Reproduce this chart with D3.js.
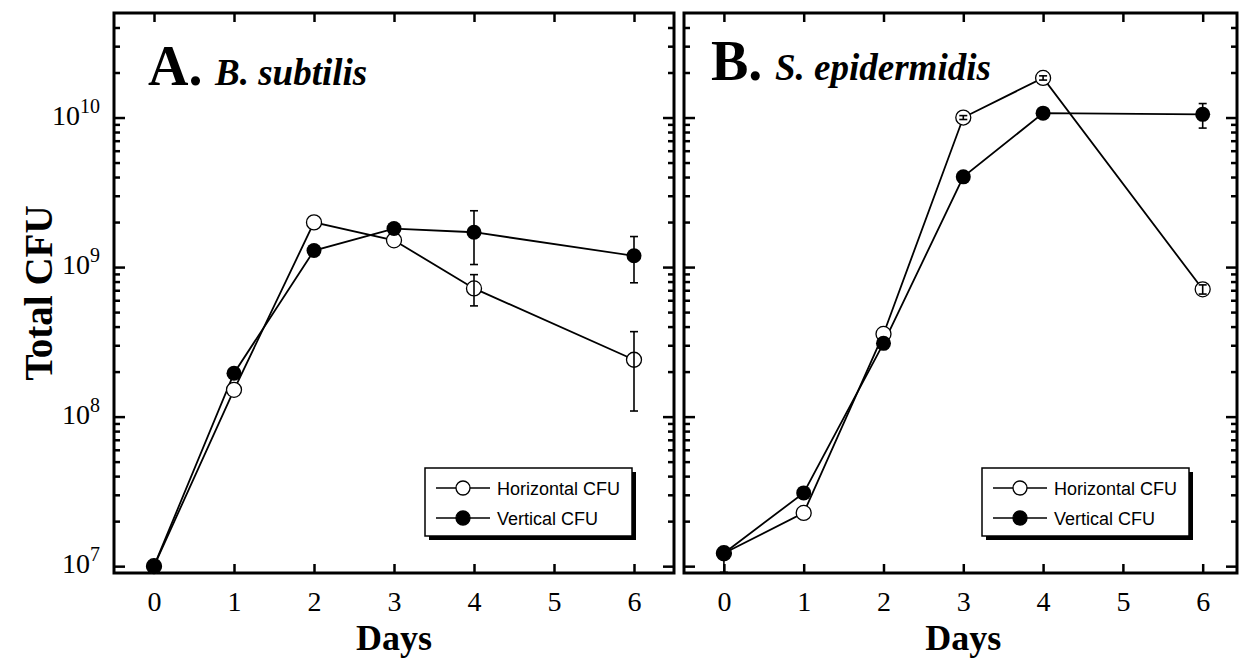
<!DOCTYPE html>
<html>
<head>
<meta charset="utf-8">
<script src="https://cdn.jsdelivr.net/npm/d3@7"></script>
<style>
  html, body { margin: 0; padding: 0; background: #fff; }
  svg { display: block; }
</style>
</head>
<body>
<svg id="chart" width="1243" height="658"></svg>
<script>
// ---- data -------------------------------------------------------------
const days = [0, 1, 2, 3, 4, 6];
const dayTicks = [0, 1, 2, 3, 4, 5, 6];
const decadeTicks = [1e7, 1e8, 1e9, 1e10];
const legendLabels = ["Horizontal CFU", "Vertical CFU"];

// A. B. subtilis
const subtilisHorizontal     = [1.0e7, 1.51e8, 1.99e9, 1.51e9, 7.2e8, 2.4e8];
const subtilisHorizontalLow  = [null, null, null, null, 5.5e8, 1.09e8];
const subtilisHorizontalHigh = [null, null, null, null, 8.9e8, 3.7e8];
const subtilisVertical       = [1.0e7, 1.95e8, 1.29e9, 1.81e9, 1.71e9, 1.19e9];
const subtilisVerticalLow    = [null, null, null, null, 1.04e9, 7.85e8];
const subtilisVerticalHigh   = [null, null, null, null, 2.38e9, 1.6e9];

// B. S. epidermidis
const epidermidisHorizontal     = [1.22e7, 2.27e7, 3.57e8, 1.0e10, 1.84e10, 7.1e8];
const epidermidisHorizontalLow  = [null, null, null, 9.7e9, 1.78e10, 6.6e8];
const epidermidisHorizontalHigh = [null, null, null, 1.03e10, 1.9e10, 7.6e8];
const epidermidisVertical       = [1.22e7, 3.09e7, 3.09e8, 4.01e9, 1.07e10, 1.05e10];
const epidermidisVerticalLow    = [9.1e6, null, null, null, null, 8.5e9];
const epidermidisVerticalHigh   = [1.3e7, null, null, null, null, 1.24e10];

// ---- layout -----------------------------------------------------------
const SERIF = "'Liberation Serif', 'Times New Roman', serif";
const SANS = "'Liberation Sans', Arial, sans-serif";
const plotTop = 13, plotBottom = 573;

const y = d3.scaleLog().domain([9e6, 5e10]).range([plotBottom, plotTop]);

const panels = [
  {
    left: 114, right: 674, xDomain: [-0.5, 6.5],
    letter: "A.", letterX: 148, species: "B. subtilis", speciesX: 215, titleY: 85,
    yLabels: true, legendX: 425, legendY: 468,
    horizontal: subtilisHorizontal, hLow: subtilisHorizontalLow, hHigh: subtilisHorizontalHigh,
    vertical: subtilisVertical, vLow: subtilisVerticalLow, vHigh: subtilisVerticalHigh
  },
  {
    left: 684, right: 1237, xDomain: [-0.5, 6.43],
    letter: "B.", letterX: 711, species: "S. epidermidis", speciesX: 775, titleY: 80,
    yLabels: false, legendX: 982, legendY: 468,
    horizontal: epidermidisHorizontal, hLow: epidermidisHorizontalLow, hHigh: epidermidisHorizontalHigh,
    vertical: epidermidisVertical, vLow: epidermidisVerticalLow, vHigh: epidermidisVerticalHigh
  }
];

const svg = d3.select("#chart");
const R = 7.5;

const isDecade = v => Math.abs(Math.log10(v) - Math.round(Math.log10(v))) < 1e-6;
const yTickValues = y.ticks().filter(v => v > 9.5e6 && v < 4.9e10);

function styleAxis(g) {
  g.select(".domain").remove();
  g.selectAll(".tick line").attr("stroke", "#000").attr("stroke-width", 2.5);
}

panels.forEach(p => {
  const x = d3.scaleLinear().domain(p.xDomain).range([p.left, p.right]);
  const g = svg.append("g");

  // bottom axis: inward ticks + labels
  const bAxis = g.append("g").attr("transform", `translate(0,${plotBottom})`)
    .call(d3.axisBottom(x).tickValues(dayTicks).tickSize(-9).tickFormat(d3.format("d")));
  styleAxis(bAxis);
  bAxis.selectAll(".tick text")
    .attr("y", 38).attr("dy", 0)
    .attr("font-family", SERIF).attr("font-size", 28).attr("fill", "#000");

  // top axis: inward ticks only
  const tAxis = g.append("g").attr("transform", `translate(0,${plotTop})`)
    .call(d3.axisTop(x).tickValues(dayTicks).tickSize(-9).tickFormat(""));
  styleAxis(tAxis);

  // left & right log axes with major/minor inward ticks
  const lAxis = g.append("g").attr("transform", `translate(${p.left},0)`)
    .call(d3.axisLeft(y).tickValues(yTickValues).tickFormat(""));
  styleAxis(lAxis);
  lAxis.selectAll(".tick line").attr("x2", d => isDecade(d) ? 11 : 6);

  const rAxis = g.append("g").attr("transform", `translate(${p.right},0)`)
    .call(d3.axisRight(y).tickValues(yTickValues).tickFormat(""));
  styleAxis(rAxis);
  rAxis.selectAll(".tick line").attr("x2", d => isDecade(d) ? -11 : -6);

  if (p.yLabels) {
    const labels = g.append("g");
    decadeTicks.forEach(v => {
      const t = labels.append("text")
        .attr("x", 100).attr("y", y(v) + 7)
        .attr("text-anchor", "end")
        .attr("font-family", SERIF).attr("font-size", 28).attr("fill", "#000");
      t.append("tspan").text("10");
      t.append("tspan").attr("font-size", 20).attr("dy", -12).text(String(Math.round(Math.log10(v))));
    });
  }

  // frame
  g.append("rect")
    .attr("x", p.left).attr("y", plotTop)
    .attr("width", p.right - p.left).attr("height", plotBottom - plotTop)
    .attr("fill", "none").attr("stroke", "#000").attr("stroke-width", 3);

  // panel title
  g.append("text").attr("x", p.letterX).attr("y", p.titleY)
    .attr("font-family", SERIF).attr("font-weight", "bold").attr("font-size", 56)
    .text(p.letter);
  g.append("text").attr("x", p.speciesX).attr("y", p.titleY)
    .attr("font-family", SERIF).attr("font-weight", "bold").attr("font-style", "italic")
    .attr("font-size", 37).text(p.species);

  // x axis title
  g.append("text").attr("x", x(3)).attr("y", 650)
    .attr("text-anchor", "middle")
    .attr("font-family", SERIF).attr("font-weight", "bold").attr("font-size", 36)
    .text("Days");

  // series
  const line = d3.line().x(d => x(d.day)).y(d => y(d.value));
  const toPts = (vals, lo, hi) => days.map((d, i) => ({ day: d, value: vals[i], lo: lo[i], hi: hi[i] }));
  const hPts = toPts(p.horizontal, p.hLow, p.hHigh);
  const vPts = toPts(p.vertical, p.vLow, p.vHigh);

  [hPts, vPts].forEach(pts => {
    g.append("path").datum(pts).attr("d", line)
      .attr("fill", "none").attr("stroke", "#000").attr("stroke-width", 1.8);
  });

  g.selectAll(null).data(hPts).enter().append("circle")
    .attr("cx", d => x(d.day)).attr("cy", d => y(d.value)).attr("r", R)
    .attr("fill", "#fff").attr("stroke", "#000").attr("stroke-width", 1.3);

  const errs = hPts.concat(vPts).filter(d => d.lo != null);
  const eg = g.append("g").attr("stroke", "#000").attr("stroke-width", 1.6);
  errs.forEach(d => {
    const cx = x(d.day);
    eg.append("line").attr("x1", cx).attr("x2", cx).attr("y1", y(d.lo)).attr("y2", y(d.hi));
    eg.append("line").attr("x1", cx - 4).attr("x2", cx + 4).attr("y1", y(d.lo)).attr("y2", y(d.lo));
    eg.append("line").attr("x1", cx - 4).attr("x2", cx + 4).attr("y1", y(d.hi)).attr("y2", y(d.hi));
  });

  g.selectAll(null).data(vPts).enter().append("circle")
    .attr("cx", d => x(d.day)).attr("cy", d => y(d.value)).attr("r", R)
    .attr("fill", "#000");

  // legend
  const lg = g.append("g").attr("transform", `translate(${p.legendX},${p.legendY})`);
  lg.append("rect").attr("x", 4).attr("y", 4).attr("width", 207).attr("height", 68).attr("fill", "#000");
  lg.append("rect").attr("x", 0).attr("y", 0).attr("width", 207).attr("height", 68)
    .attr("fill", "#fff").attr("stroke", "#000").attr("stroke-width", 1.5);
  legendLabels.forEach((lab, i) => {
    const ry = 20 + i * 30;
    lg.append("line").attr("x1", 11).attr("x2", 65).attr("y1", ry).attr("y2", ry)
      .attr("stroke", "#000").attr("stroke-width", 1.5);
    lg.append("circle").attr("cx", 38).attr("cy", ry).attr("r", 7)
      .attr("fill", i === 0 ? "#fff" : "#000").attr("stroke", "#000").attr("stroke-width", 1.3);
    lg.append("text").attr("x", 72).attr("y", ry + 7)
      .attr("font-family", SANS).attr("font-size", 18).text(lab);
  });
});

// shared y axis title
svg.append("text")
  .attr("transform", `translate(52,${(plotTop + plotBottom) / 2}) rotate(-90)`)
  .attr("text-anchor", "middle")
  .attr("font-family", SERIF).attr("font-weight", "bold").attr("font-size", 39)
  .text("Total CFU");
</script>
</body>
</html>
